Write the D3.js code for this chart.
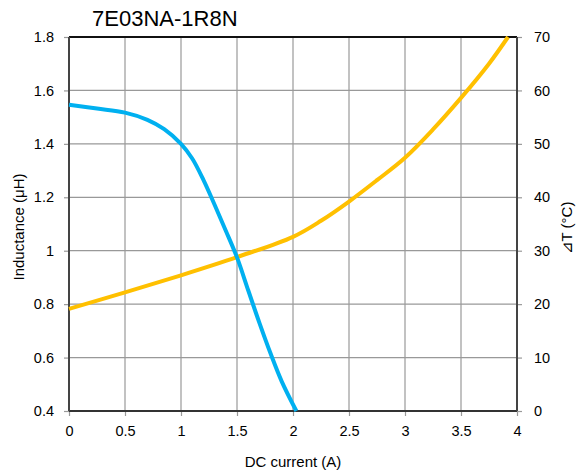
<!DOCTYPE html>
<html><head><meta charset="utf-8">
<script src="https://cdn.jsdelivr.net/npm/d3@7"></script>
<style>
html,body{margin:0;padding:0;background:#fff;}
svg text{font-family:"Liberation Sans",Arial,sans-serif;fill:#000;}
</style></head>
<body><svg id="c" width="580" height="475"></svg>
<script>
const title = "7E03NA-1R8N";
const xTicks = [0,0.5,1,1.5,2,2.5,3,3.5,4];
const xTickLabels = ["0","0.5","1","1.5","2","2.5","3","3.5","4"];
const yLeftTicks = [0.4,0.6,0.8,1.0,1.2,1.4,1.6,1.8];
const yLeftTickLabels = ["0.4","0.6","0.8","1","1.2","1.4","1.6","1.8"];
const yRightTicks = [0,10,20,30,40,50,60,70];
const yRightTickLabels = ["0","10","20","30","40","50","60","70"];
const inductanceCurrent = [0,0.25,0.5,0.7,0.85,1.0,1.1,1.2,1.3,1.4,1.5,1.6,1.7,1.8,1.9,2.03];
const inductanceValues  = [1.546,1.532,1.517,1.49,1.455,1.40,1.345,1.265,1.172,1.075,0.975,0.852,0.73,0.615,0.51,0.4];
const tempCurrent = [0,0.5,1,1.5,2,2.25,2.5,2.75,3,3.25,3.5,3.75,3.92];
const tempValues  = [19.1,22.2,25.4,28.8,32.6,35.6,39.2,43.2,47.4,52.7,58.6,65,70];

const svg = d3.select("#c");
const L=69, R=517, T=37, B=411;
const x = d3.scaleLinear().domain([0,4]).range([L,R]);
const yL = d3.scaleLinear().domain([0.4,1.8]).range([B,T]);
const yR = d3.scaleLinear().domain([0,70]).range([B,T]);

// grid
const g = svg.append("g");
g.selectAll(".vg").data(xTicks).join("line")
  .attr("x1",d=>x(d)).attr("x2",d=>x(d)).attr("y1",T).attr("y2",B)
  .attr("stroke","#999").attr("stroke-width",1.2);
g.selectAll(".hg").data(yLeftTicks).join("line")
  .attr("x1",L).attr("x2",R).attr("y1",d=>yL(d)).attr("y2",d=>yL(d))
  .attr("stroke","#999").attr("stroke-width",1.2);

// axes
const axB = d3.axisBottom(x).tickValues(xTicks).tickFormat((d,i)=>xTickLabels[i]).tickSize(5).tickPadding(10);
const axL = d3.axisLeft(yL).tickValues(yLeftTicks).tickFormat((d,i)=>yLeftTickLabels[i]).tickSize(5).tickPadding(10);
const axR = d3.axisRight(yR).tickValues(yRightTicks).tickFormat((d,i)=>yRightTickLabels[i]).tickSize(5).tickPadding(12);
function style(sel){
  sel.select(".domain").remove();
  sel.selectAll(".tick line").attr("stroke","#999").attr("stroke-width",1.2);
  sel.selectAll(".tick text").attr("font-size",14.5).attr("font-family","Liberation Sans, Arial, sans-serif").attr("fill","#000");
}
svg.append("g").attr("transform",`translate(0,${B})`).call(axB).call(style);
svg.append("g").attr("transform",`translate(${L},0)`).call(axL).call(style);
svg.append("g").attr("transform",`translate(${R},0)`).call(axR).call(style);

// frame
svg.append("line").attr("x1",L).attr("x2",R).attr("y1",T).attr("y2",T).attr("stroke","#111").attr("stroke-width",2);
svg.append("line").attr("x1",L).attr("x2",R).attr("y1",B).attr("y2",B).attr("stroke","#333").attr("stroke-width",2);
svg.append("line").attr("x1",L).attr("x2",L).attr("y1",T).attr("y2",B).attr("stroke","#444").attr("stroke-width",2);
svg.append("line").attr("x1",R).attr("x2",R).attr("y1",T).attr("y2",B).attr("stroke","#444").attr("stroke-width",2);

// lines
const indData = inductanceCurrent.map((c,i)=>[c,inductanceValues[i]]);
const tmpData = tempCurrent.map((c,i)=>[c,tempValues[i]]);
svg.append("path").datum(tmpData)
  .attr("d",d3.line().x(d=>x(d[0])).y(d=>yR(d[1])).curve(d3.curveCatmullRom))
  .attr("fill","none").attr("stroke","#FFC000").attr("stroke-width",4);
svg.append("path").datum(indData)
  .attr("d",d3.line().x(d=>x(d[0])).y(d=>yL(d[1])).curve(d3.curveCatmullRom))
  .attr("fill","none").attr("stroke","#00B0F0").attr("stroke-width",4);

// texts
svg.append("text").attr("x",92).attr("y",26).attr("font-size",22).text(title);
svg.append("text").attr("x",293).attr("y",467).attr("text-anchor","middle").attr("font-size",15).text("DC current (A)");
svg.append("text").attr("transform","translate(24,227) rotate(-90)").attr("text-anchor","middle").attr("font-size",15).text("Inductance (μH)");
svg.append("text").attr("transform","translate(572,228) rotate(-90)").attr("text-anchor","middle").attr("font-size",15).text("⊿T (°C)");
</script></body></html>
